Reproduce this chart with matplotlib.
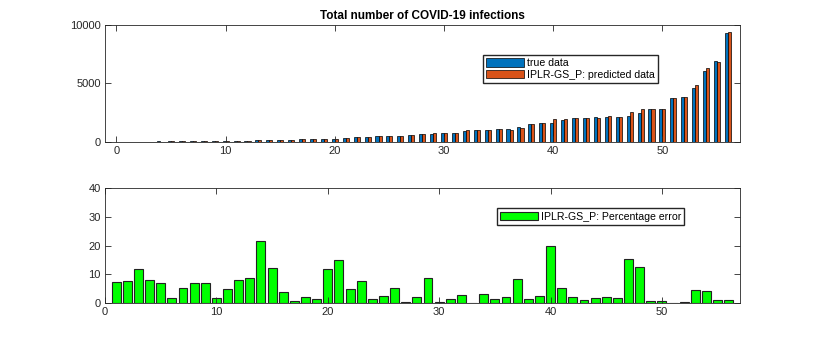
import numpy as np
import matplotlib
matplotlib.use("Agg")
import matplotlib.pyplot as plt

plt.rcParams['font.family'] = ['Liberation Sans', 'DejaVu Sans']

days = list(range(1, 57))
true_data = [12, 18, 25, 33, 42, 52, 62, 75, 85, 95,
             105, 115, 130, 145, 165, 190, 210, 225, 240, 285,
             370, 430, 455, 465, 505, 515, 600, 630, 660, 740,
             770, 970, 975, 1030, 1060, 1065, 1290, 1540, 1570, 1600,
             1860, 2000, 2060, 2110, 2140, 2140, 2200, 2460, 2800, 2820,
             3740, 3860, 4630, 6060, 6910, 9290]
pred_data = [12.9, 16.6, 28, 30.4, 45, 51.1, 65.3, 69.8, 91.1, 93.4,
             110.3, 105.6, 141.4, 176, 145, 197.6, 208.3, 230, 236.6, 251.4,
             314.9, 451, 420, 471.5, 492.4, 542.3, 603, 643.9, 716.8, 742.2,
             781.6, 998, 976, 997, 1074.8, 1040.5, 1180, 1517, 1607.7, 1915,
             1958.6, 2042, 2039, 2072, 2185, 2101.5, 2534, 2767.5, 2822, 2845,
             3744, 3871.6, 4843, 6314.5, 6841, 9392]
pct_error = [7.5, 7.8, 12.0, 7.9, 7.2, 1.8, 5.4, 6.9, 7.2, 1.7,
             5.0, 8.2, 8.8, 21.4, 12.1, 4.0, 0.8, 2.2, 1.4, 11.8,
             14.9, 4.9, 7.7, 1.4, 2.5, 5.3, 0.5, 2.2, 8.6, 0.3,
             1.5, 2.9, 0.1, 3.2, 1.4, 2.3, 8.5, 1.5, 2.4, 19.7,
             5.3, 2.1, 1.0, 1.8, 2.1, 1.8, 15.2, 12.5, 0.8, 0.9,
             0.1, 0.3, 4.6, 4.2, 1.0, 1.1]

blue = '#0072BD'
orange = '#D95319'
axc = '#262626'

fig = plt.figure(figsize=(8.14, 3.41), dpi=100)
ax1 = fig.add_axes([0.129, 0.584, 0.780, 0.343])
ax2 = fig.add_axes([0.129, 0.1105, 0.780, 0.3391])

x = np.array(days)
w = 0.28
ax1.bar(x - 0.14, true_data, width=w, color=blue, edgecolor='black', linewidth=0.5, label='true data')
ax1.bar(x + 0.14, pred_data, width=w, color=orange, edgecolor='black', linewidth=0.5, label='IPLR-GS_P: predicted data')
ax1.set_xlim(-1.05, 57.1)
ax1.set_ylim(0, 10000)
ax1.set_xticks([0, 10, 20, 30, 40, 50])
ax1.set_yticks([0, 5000, 10000])
ax1.set_title('Total number of COVID-19 infections', fontsize=8.5, fontweight='bold', pad=4)
ax1.legend(loc='upper left', bbox_to_anchor=(0.593, 0.839), bbox_transform=fig.transFigure,
           fontsize=7.6, frameon=True, fancybox=False, framealpha=1, edgecolor=axc,
           handlelength=3.6, handleheight=0.85, handletextpad=0.3, borderpad=0.3,
           labelspacing=0.15, borderaxespad=0)

ax2.bar(x, pct_error, width=0.8, color='#00FF00', edgecolor='#222222', linewidth=0.8,
        label='IPLR-GS_P: Percentage error')
ax2.set_xlim(0, 57)
ax2.set_ylim(0, 40)
ax2.set_xticks([0, 10, 20, 30, 40, 50])
ax2.set_yticks([0, 10, 20, 30, 40])
ax2.legend(loc='upper left', bbox_to_anchor=(0.610, 0.389), bbox_transform=fig.transFigure,
           fontsize=7.6, frameon=True, fancybox=False, framealpha=1, edgecolor=axc,
           handlelength=3.6, handleheight=0.85, handletextpad=0.3, borderpad=0.3,
           borderaxespad=0)

for ax in (ax1, ax2):
    for s in ax.spines.values():
        s.set_color(axc)
        s.set_linewidth(0.6)
    ax.tick_params(direction='in', top=True, right=True, length=4, width=0.6,
                   color=axc, labelcolor=axc, labelsize=8, pad=3)

fig.savefig('out.png', dpi=100)
